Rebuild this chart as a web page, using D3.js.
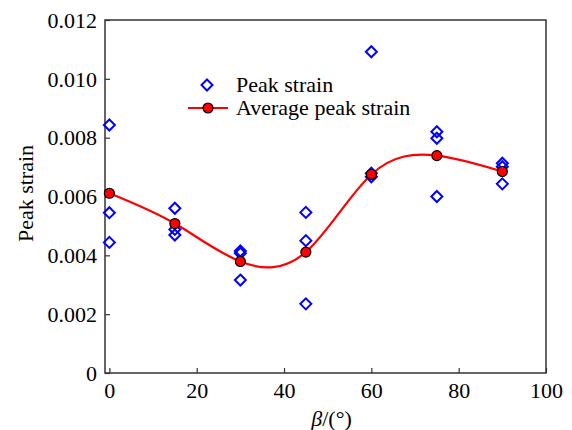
<!DOCTYPE html>
<html><head><meta charset="utf-8">
<script src="https://cdn.jsdelivr.net/npm/d3@7"></script>
<style>body{margin:0;background:#fff}svg{display:block}text{font-family:"Liberation Serif","Times New Roman",serif}</style>
</head><body><svg id="c" width="572" height="430"></svg>
<script>
const angles = [0, 15, 30, 45, 60, 75, 90];
const peakStrain = [
  [0.00843, 0.00545, 0.00444],
  [0.00560, 0.00488, 0.00469],
  [0.00415, 0.00407, 0.00316],
  [0.00546, 0.00450, 0.00235],
  [0.01092, 0.00679, 0.00667],
  [0.00820, 0.00798, 0.00600],
  [0.00713, 0.00701, 0.00643]
];
const avgStrain = [0.00611, 0.00508, 0.00379, 0.00411, 0.00675, 0.00739, 0.00685];
const xTicks = [0, 20, 40, 60, 80, 100];
const yTicks = [0, 0.002, 0.004, 0.006, 0.008, 0.010, 0.012];

const svg = d3.select("#c");
const L = 105, R = 546, T = 20, B = 373;
const x = d3.scaleLinear().domain([-1, 100]).range([L, R]);
const y = d3.scaleLinear().domain([0, 0.012]).range([B, T]);
const FS = 22;

// axes
const xa = svg.append("g").attr("transform", `translate(0,${B})`)
  .call(d3.axisBottom(x).tickValues(xTicks).tickSize(-5).tickPadding(8).tickFormat(d3.format("d")));
const ya = svg.append("g").attr("transform", `translate(${L},0)`)
  .call(d3.axisLeft(y).tickValues(yTicks).tickSize(-5).tickPadding(8).tickFormat(d => d === 0 ? "0" : d3.format(".3f")(d)));
[xa, ya].forEach(a => {
  a.selectAll("text").attr("font-size", FS).attr("fill", "#000").attr("font-family", '"Liberation Serif",serif');
  a.selectAll("line").attr("stroke", "#333").attr("stroke-width", 1.2);
  a.select(".domain").remove();
});
xa.selectAll("text").attr("dy", "0.72em").attr("y", 9);
ya.selectAll("text").attr("dy", "0.33em");
// frame
svg.append("rect").attr("x", L).attr("y", T).attr("width", R - L).attr("height", B - T)
  .attr("fill", "none").attr("stroke", "#333").attr("stroke-width", 1.5);

// curve
svg.append("path").datum(angles.map((a, i) => [a, avgStrain[i]]))
  .attr("d", d3.line().x(d => x(d[0])).y(d => y(d[1])).curve(d3.curveNatural))
  .attr("fill", "none").attr("stroke", "#ff0000").attr("stroke-width", 2.2);

// diamonds
const diamond = (cx, cy, s) => `M${cx},${cy - s}L${cx + s},${cy}L${cx},${cy + s}L${cx - s},${cy}Z`;
const pts = [];
angles.forEach((a, i) => peakStrain[i].forEach(v => pts.push([a, v])));
svg.append("g").selectAll("path").data(pts).join("path")
  .attr("d", d => diamond(x(d[0]), y(d[1]), 5.5))
  .attr("fill", "none").attr("stroke", "#0000ff").attr("stroke-width", 2);

// average dots
svg.append("g").selectAll("circle").data(angles.map((a, i) => [a, avgStrain[i]])).join("circle")
  .attr("cx", d => x(d[0])).attr("cy", d => y(d[1])).attr("r", 5)
  .attr("fill", "#ff0000").attr("stroke", "#000").attr("stroke-width", 1.2);

// legend
const lg = svg.append("g");
lg.append("path").attr("d", diamond(207, 85, 5.5)).attr("fill", "none").attr("stroke", "#0000ff").attr("stroke-width", 2);
lg.append("text").attr("x", 236).attr("y", 92).attr("font-size", FS).text("Peak strain");
lg.append("line").attr("x1", 188).attr("x2", 228).attr("y1", 108).attr("y2", 108).attr("stroke", "#ff0000").attr("stroke-width", 2.2);
lg.append("circle").attr("cx", 208).attr("cy", 108).attr("r", 5).attr("fill", "#ff0000").attr("stroke", "#000").attr("stroke-width", 1.2);
lg.append("text").attr("x", 236).attr("y", 115).attr("font-size", FS).text("Average peak strain");

// axis titles
svg.append("text").attr("transform", `translate(33,${(T + B) / 2 - 3}) rotate(-90)`)
  .attr("text-anchor", "middle").attr("font-size", FS).text("Peak strain");
const xt = svg.append("text").attr("x", (L + R) / 2 + 6).attr("y", 426).attr("text-anchor", "middle").attr("font-size", FS);
xt.append("tspan").attr("font-style", "italic").text("β");
xt.append("tspan").text("/(°)");
</script></body></html>
